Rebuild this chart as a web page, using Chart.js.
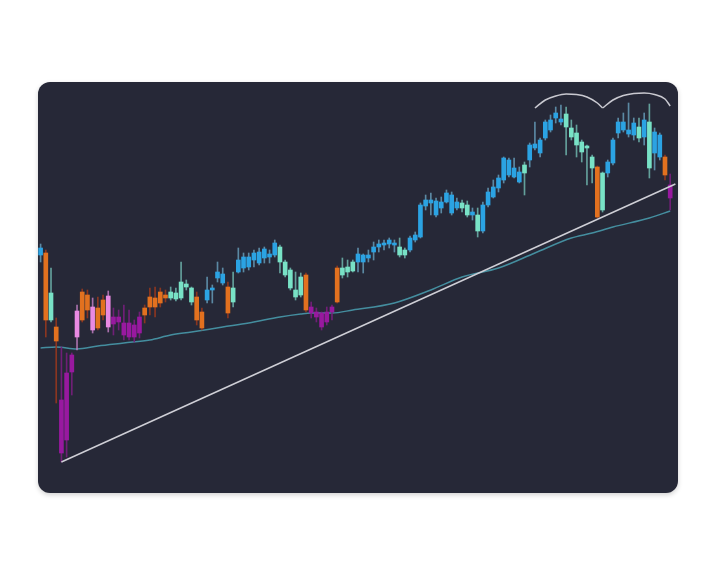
<!DOCTYPE html>
<html lang="en">
<head>
    <meta charset="UTF-8">
    <title>Candles with trend line</title>
    <script src="https://cdn.jsdelivr.net/npm/chart.js"></script>
    <style>
        body {
            margin: 0;
            padding: 0;
            background-color: #ffffff;
        }
        .card {
            position: absolute;
            left: 38px;
            top: 82px;
            width: 640px;
            height: 411px;
            border-radius: 12px;
            overflow: hidden;
            background-color: #262837;
            box-shadow: 0 2px 5px rgba(0, 0, 0, 0.18);
        }
    </style>
</head>
<body>
    <div class="card">
        <canvas id="myChart" width="640" height="411"></canvas>
    </div>

    <script>
        // candles: [high, low, open, close]
        const highs = [249,243,225,175,146,140,140,188,204,203, 195,196,198,202,185,183,188,183,173,181,
            188,205,206,205,203,206,205,231,213,206, 201,185,216,208,231,225,211,221,245,240,
            240,243,245,246,243,253,248,233,225,221, 220,220,191,185,181,186,188,227,235,233,
            233,245,239,243,251,253,253,255,253,255, 245,257,261,290,298,300,295,296,303,301,
            295,293,292,285,285,291,305,313,318,336, 335,335,326,331,350,371,355,373,378,386,
            388,386,373,368,353,348,338,327,321,333, 355,375,380,390,375,375,380,389,365,360,
            338,319];
        const lows = [231,156,171,90,31,36,98,143,171,175, 160,163,173,161,158,163,153,153,151,155,
            170,178,176,186,191,193,192,193,203,188, 168,163,190,190,211,208,175,186,220,221,
            223,226,228,230,230,236,220,216,203,193, 196,181,175,171,163,168,173,190,215,216,
            221,221,220,231,233,241,243,245,241,236, 235,241,251,255,283,278,276,280,290,278,
            283,281,276,273,256,260,286,295,301,310, 316,315,310,298,326,343,336,353,361,370,
            368,338,353,336,331,308,310,275,281,316, 328,355,361,356,353,351,348,315,323,333,
            313,283];
        const opens = [238,240,173,166,93,120,138,156,201,198, 163,185,193,166,176,176,170,170,168,176,
            185,196,195,201,198,195,194,195,206,191, 196,181,193,203,215,210,206,191,221,225,
            226,233,230,235,236,238,231,218,205,196, 198,218,186,181,180,181,186,225,218,221,
            222,231,231,235,241,246,248,249,248,238, 238,243,253,256,287,290,278,285,291,280,
            285,285,278,278,262,262,288,296,305,313, 318,316,311,320,333,345,340,355,363,375,
            371,366,356,348,341,345,325,326,283,320, 330,360,363,359,358,355,356,325,340,336,
            336,308];
        const closes = [245,173,200,152,40,53,121,182,173,183, 186,165,178,197,169,171,158,156,156,160,
            178,186,186,190,195,201,200,211,209,205, 173,165,203,205,221,219,180,205,233,236,
            236,240,241,244,239,250,246,231,223,203, 216,183,180,176,166,171,181,191,225,226,
            231,239,238,238,246,249,250,253,250,246, 243,255,258,288,293,293,292,291,300,298,
            291,290,288,281,278,288,301,306,315,335, 333,325,321,328,348,349,353,371,373,380,
            374,379,365,360,351,347,336,276,320,331, 353,371,371,363,370,366,373,371,361,358,
            318,295];
        // indicator state of each candle: b bull, m bull fading, o bear fading, p bear, k bear easing
        const state = ('bomopppkoo' + 'kookpppppp' + 'ooooommmmm' + 'oobbbbombb' + 'bbbbbbmmmm' +
            'mopppppomm' + 'mbbbbbbbbm' + 'mbbbbbbbbb' + 'bmmbmbbbbb' + 'bbbmbbbbbb' +
            'bmmmmmmomb' + 'bbbbbmbmbb' + 'op').split('');

        // moving average, read at a few candles
        const maIndex = [0, 3, 7, 11, 16, 21, 25, 29, 35, 40, 46, 50, 52, 56, 60, 68, 75, 81, 88, 95, 102, 106, 110, 117, 121];
        const maValue = [145, 146, 144, 147, 150, 153, 158, 161, 166, 170, 176, 179, 180, 180, 183, 190, 203, 216, 225, 240, 255, 260, 266, 275, 282];

        // rising support line
        const trendIndex = [4, 122];
        const trendValue = [31, 309];

        // the two arcs of the double top
        const arc1Index = [95, 97, 99, 101, 103, 105, 107, 108];
        const arc1Value = [385, 393, 397, 399, 398.5, 396, 390, 385];
        const arc2Index = [108, 110, 112, 114, 116, 118, 120, 121];
        const arc2Value = [385, 393, 397.5, 399.5, 400, 398.5, 394, 387];

        const slots = 123;
        const labels = Array.from({ length: slots }, (_, i) => i);

        const palette = {
            b: '#2ba3e3',
            m: '#78e2c6',
            o: '#e2711f',
            p: '#98199f',
            k: '#e98ae2'
        };
        const wickPalette = {
            b: 'rgba(110, 170, 200, 0.75)',
            m: 'rgba(120, 200, 190, 0.75)',
            o: 'rgba(150, 55, 30, 0.9)',
            p: 'rgba(120, 30, 125, 0.9)',
            k: 'rgba(200, 130, 200, 0.8)'
        };

        function sparse(idx, vals) {
            const out = new Array(slots).fill(null);
            idx.forEach((k, j) => { out[k] = vals[j]; });
            return out;
        }

        const wickData = highs.map((h, i) => [lows[i], h]);
        const bodyData = opens.map((o, i) => [Math.min(o, closes[i]), Math.max(o, closes[i])]);

        const ctx = document.getElementById('myChart').getContext('2d');
        const myChart = new Chart(ctx, {
            data: {
                labels: labels,
                datasets: [
                    {
                        type: 'line',
                        label: 'MA',
                        data: sparse(maIndex, maValue),
                        spanGaps: true,
                        borderColor: 'rgba(74, 160, 178, 0.85)',
                        borderWidth: 1.5,
                        pointRadius: 0,
                        cubicInterpolationMode: 'monotone',
                        order: 3
                    },
                    {
                        type: 'bar',
                        label: 'wicks',
                        data: wickData,
                        backgroundColor: state.map(s => wickPalette[s]),
                        barThickness: 1,
                        grouped: false,
                        order: 2
                    },
                    {
                        type: 'bar',
                        label: 'bodies',
                        data: bodyData,
                        backgroundColor: state.map(s => palette[s]),
                        barThickness: 4,
                        grouped: false,
                        order: 1
                    },
                    {
                        type: 'line',
                        label: 'trend',
                        data: sparse(trendIndex, trendValue),
                        spanGaps: true,
                        borderColor: '#cfcfd6',
                        borderWidth: 1.5,
                        pointRadius: 0,
                        order: 0
                    },
                    {
                        type: 'line',
                        label: 'top 1',
                        data: sparse(arc1Index, arc1Value),
                        spanGaps: true,
                        borderColor: '#c9c9d0',
                        borderWidth: 1.5,
                        pointRadius: 0,
                        cubicInterpolationMode: 'monotone',
                        order: 0
                    },
                    {
                        type: 'line',
                        label: 'top 2',
                        data: sparse(arc2Index, arc2Value),
                        spanGaps: true,
                        borderColor: '#c9c9d0',
                        borderWidth: 1.5,
                        pointRadius: 0,
                        cubicInterpolationMode: 'monotone',
                        order: 0
                    }
                ]
            },
            options: {
                responsive: false,
                animation: false,
                layout: { padding: 0 },
                scales: {
                    x: { display: false, offset: true },
                    y: { display: false, min: 0, max: 411 }
                },
                plugins: {
                    legend: { display: false },
                    tooltip: { enabled: false }
                }
            }
        });
    </script>
</body>
</html>
